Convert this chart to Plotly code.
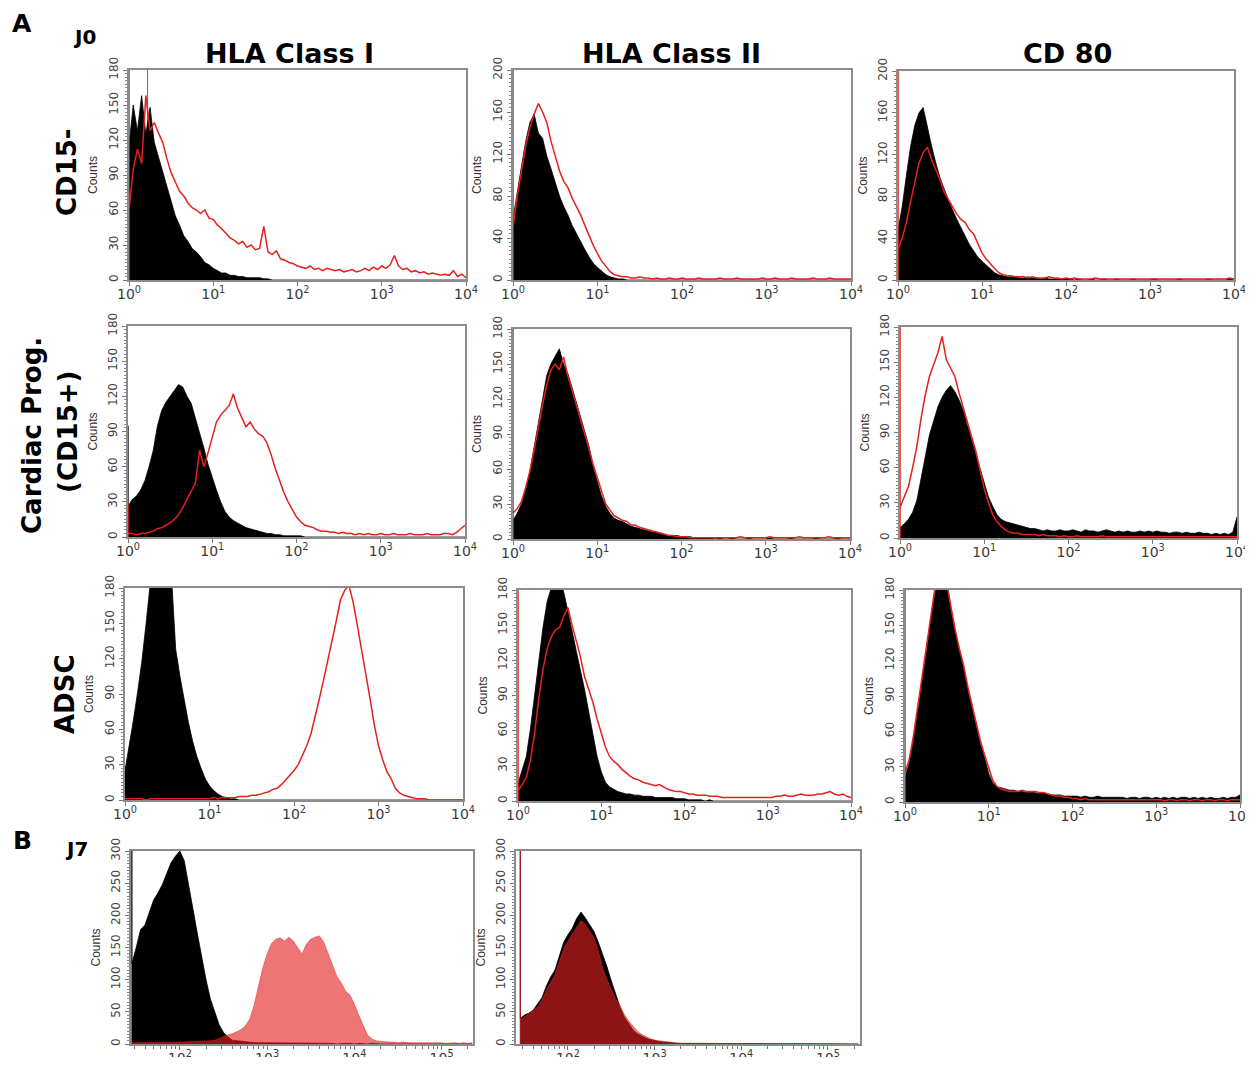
import plotly.graph_objects as go

W, H = 1253, 1065          # browser window / figure size

# log10 position of the first histogram channel and channel spacing (decades)
A_LOG0 = 0.0
B_LOG0 = 1.45
STEP = 0.05

# ===================== Panel A, row "CD15-" =====================
CD15N_HLA1_CTRL = [115, 150, 128, 158, 125, 148, 118, 105, 92, 80,
                   66, 55, 47, 38, 33, 27, 24, 20, 15, 13,
                   10, 8, 6, 6, 4, 4, 3, 3, 2, 2,
                   2, 2, 1, 1, 0, 0, 0, 0, 0, 0] + [0] * 41
CD15N_HLA1_STAIN = [60, 95, 112, 100, 158, 128, 135, 126, 118, 104,
                    92, 84, 76, 72, 66, 62, 60, 57, 60, 53,
                    52, 47, 44, 40, 36, 34, 31, 33, 28, 30,
                    26, 27, 46, 24, 22, 25, 18, 17, 15, 14,
                    12, 11, 10, 12, 9, 10, 8, 10, 9, 8,
                    9, 7, 8, 9, 7, 8, 10, 8, 11, 9,
                    12, 10, 13, 21, 12, 9, 10, 7, 8, 6,
                    7, 5, 6, 5, 4, 5, 4, 8, 3, 5,
                    2]
CD15N_HLA1_STAIN_EDGE = 400
CD15N_HLA1_CTRL_SPIKE = (0.22, 400)

CD15N_HLA2_CTRL = [58, 85, 108, 132, 150, 158, 140, 135, 118, 106,
                   92, 80, 70, 62, 52, 44, 36, 29, 22, 16,
                   12, 8, 5, 3, 2, 1, 1, 0, 0, 0] + [0] * 51
CD15N_HLA2_STAIN = [50, 80, 105, 128, 145, 158, 168, 160, 150, 132,
                    118, 104, 94, 88, 78, 70, 62, 52, 42, 33,
                    25, 18, 13, 8, 5, 4, 3, 3, 2, 2,
                    3, 2, 2, 1, 2, 1, 1, 2, 1, 1,
                    2, 1, 1, 1, 2, 1, 1, 1, 1, 2,
                    1, 1, 1, 2, 1, 1, 1, 1, 1, 2,
                    1, 1, 2, 1, 1, 1, 2, 1, 1, 1,
                    1, 2, 1, 1, 1, 2, 1, 1, 1, 1,
                    1]
CD15N_HLA2_STAIN_EDGE = 400

CD15N_CD80_CTRL = [48, 70, 100, 128, 148, 160, 165, 145, 128, 112,
                   98, 87, 76, 67, 58, 50, 42, 34, 28, 22,
                   18, 14, 10, 7, 5, 4, 3, 3, 3, 2,
                   2, 3, 2, 2, 1, 2, 1, 1, 1, 1,
                   1, 1, 0, 1, 0, 0, 1, 0, 0, 1,
                   0, 0, 1, 0, 0, 0, 1, 0, 0, 0,
                   0, 1, 0, 0, 0, 0, 0, 1, 0, 0,
                   0, 0, 0, 0, 1, 0, 0, 0, 0, 1,
                   0]
CD15N_CD80_STAIN = [29, 40, 55, 75, 95, 112, 122, 127, 115, 105,
                    96, 84, 77, 70, 63, 58, 55, 48, 44, 35,
                    26, 20, 15, 11, 7, 5, 4, 4, 3, 3,
                    3, 2, 3, 2, 2, 2, 3, 2, 2, 1,
                    2, 1, 2, 1, 1, 1, 1, 2, 1, 1,
                    1, 1, 1, 1, 1, 1, 1, 1, 1, 1,
                    1, 1, 1, 1, 1, 1, 1, 1, 1, 1,
                    1, 1, 1, 1, 1, 1, 1, 1, 1, 2,
                    1]
CD15N_CD80_STAIN_EDGE = 400

# ===================== Panel A, row "Cardiac Prog. (CD15+)" =====================
CP_HLA1_CTRL = [26, 32, 35, 40, 48, 60, 74, 95, 108, 115,
                120, 124, 130, 128, 120, 114, 102, 89, 76, 62,
                50, 40, 30, 22, 17, 14, 12, 10, 8, 7,
                6, 5, 4, 3, 3, 2, 2, 1, 1, 1,
                1, 1, 0, 0, 0, 0, 0, 0, 0, 0] + [0] * 31
CP_HLA1_CTRL_EDGE = 95
CP_HLA1_STAIN = [3, 3, 2, 3, 3, 4, 5, 7, 8, 10,
                 12, 15, 19, 25, 32, 38, 46, 74, 60, 72,
                 86, 98, 104, 108, 112, 122, 110, 102, 94, 98,
                 92, 88, 86, 80, 70, 58, 48, 38, 30, 24,
                 17, 13, 10, 9, 8, 6, 5, 5, 4, 4,
                 3, 4, 3, 3, 2, 3, 2, 3, 2, 2,
                 3, 2, 2, 3, 2, 2, 2, 3, 2, 2,
                 2, 3, 2, 2, 2, 3, 3, 2, 4, 7,
                 10]
CP_HLA1_STAIN_EDGE = 28

CP_HLA2_CTRL = [16, 22, 30, 42, 58, 78, 98, 120, 140, 150,
                156, 163, 150, 142, 130, 118, 105, 92, 80, 62,
                50, 37, 28, 22, 18, 16, 15, 13, 11, 10,
                9, 8, 7, 6, 6, 5, 4, 3, 3, 3,
                2, 2, 2, 1, 1, 1, 1, 1, 0, 1,
                0, 0, 1, 0, 0, 0, 1, 0, 0, 0,
                0, 1, 0, 0, 0, 0, 1, 0, 0, 0,
                0, 0, 1, 0, 0, 0, 0, 1, 0, 0,
                0]
CP_HLA2_STAIN = [22, 26, 32, 44, 58, 76, 96, 115, 132, 145,
                 150, 145, 156, 140, 128, 116, 102, 90, 78, 64,
                 52, 40, 30, 25, 20, 18, 16, 15, 12, 12,
                 10, 9, 8, 7, 6, 5, 4, 3, 3, 2,
                 2, 2, 1, 1, 1, 1, 1, 1, 1, 1,
                 1, 1, 1, 1, 2, 1, 1, 1, 1, 1,
                 1, 2, 1, 1, 1, 1, 1, 1, 2, 1,
                 1, 1, 1, 1, 1, 2, 1, 1, 1, 1,
                 1]
CP_HLA2_STAIN_EDGE = 400

CP_CD80_CTRL = [9, 12, 16, 22, 32, 50, 70, 88, 100, 112,
                120, 126, 130, 125, 118, 109, 96, 84, 72, 58,
                47, 35, 27, 20, 16, 14, 13, 12, 11, 10,
                9, 8, 8, 7, 6, 7, 6, 6, 7, 6,
                6, 7, 6, 5, 7, 6, 6, 5, 6, 7,
                6, 5, 6, 5, 6, 5, 5, 6, 5, 6,
                5, 6, 5, 5, 4, 5, 5, 4, 5, 4,
                4, 5, 4, 4, 3, 4, 3, 4, 3, 5,
                18]
CP_CD80_STAIN = [26, 35, 44, 60, 78, 102, 122, 138, 148, 158,
                 172, 152, 145, 138, 124, 112, 100, 88, 74, 58,
                 42, 30, 20, 14, 10, 7, 5, 4, 4, 3,
                 3, 3, 3, 2, 3, 2, 2, 2, 1, 2,
                 1, 1, 2, 1, 1, 1, 1, 1, 2, 1,
                 1, 1, 1, 1, 1, 1, 1, 1, 1, 1,
                 1, 1, 1, 1, 1, 1, 1, 1, 1, 1,
                 1, 1, 1, 1, 1, 1, 1, 1, 1, 1,
                 1]
CP_CD80_STAIN_EDGE = 400

# ===================== Panel A, row "ADSC" =====================
ADSC_HLA1_CTRL = [25, 45, 68, 92, 118, 150, 185, 195, 200, 198,
                  195, 190, 128, 105, 85, 66, 50, 37, 27, 18,
                  12, 8, 5, 3, 2, 1, 1, 0, 0, 0] + [0] * 51
ADSC_HLA1_STAIN = [1, 1, 1, 1, 1, 0, 1, 1, 1, 1,
                   1, 1, 1, 1, 1, 1, 1, 1, 1, 1,
                   1, 2, 1, 2, 2, 2, 2, 3, 3, 3,
                   4, 4, 5, 6, 7, 9, 10, 13, 17, 21,
                   25, 30, 38, 46, 56, 70, 86, 102, 118, 136,
                   152, 170, 178, 182, 168, 148, 128, 108, 86, 64,
                   46, 34, 24, 18, 10, 6, 4, 3, 2, 1,
                   1, 1, 0, 0, 0, 0, 0, 0, 0, 0,
                   0]

ADSC_HLA2_CTRL = [15, 26, 38, 62, 90, 120, 148, 170, 182, 188,
                  190, 178, 160, 145, 128, 112, 95, 76, 58, 38,
                  25, 16, 12, 10, 8, 7, 6, 6, 5, 5,
                  4, 4, 4, 3, 3, 3, 3, 3, 2, 2,
                  2, 1, 1, 1, 1, 0, 1, 0, 0, 0] + [0] * 31
ADSC_HLA2_STAIN = [9, 14, 20, 35, 58, 88, 112, 130, 140, 146,
                   148, 158, 165, 150, 136, 123, 106, 95, 84, 70,
                   58, 46, 38, 34, 31, 27, 24, 21, 19, 18,
                   16, 15, 14, 13, 14, 12, 10, 9, 8, 8,
                   7, 6, 6, 5, 5, 5, 4, 4, 4, 3,
                   3, 3, 3, 3, 3, 3, 3, 3, 3, 3,
                   3, 3, 4, 4, 5, 4, 4, 5, 6, 5,
                   5, 5, 6, 6, 7, 8, 6, 5, 6, 4,
                   3]
ADSC_HLA2_STAIN_EDGE = 400

ADSC_CD80_CTRL = [21, 33, 52, 75, 100, 125, 152, 175, 190, 195,
                  188, 162, 145, 128, 115, 95, 80, 64, 50, 38,
                  24, 16, 13, 12, 11, 10, 10, 9, 9, 8,
                  8, 8, 7, 8, 7, 6, 6, 6, 5, 5,
                  5, 5, 4, 5, 4, 4, 5, 4, 4, 4,
                  4, 4, 4, 3, 4, 4, 3, 4, 4, 3,
                  4, 3, 4, 3, 4, 3, 4, 4, 3, 4,
                  3, 4, 3, 4, 3, 3, 4, 3, 4, 4,
                  6]
ADSC_CD80_STAIN = [25, 36, 56, 80, 104, 128, 155, 178, 192, 190,
                   185, 165, 146, 130, 116, 98, 82, 66, 52, 40,
                   28, 18, 13, 11, 10, 9, 9, 9, 10, 9,
                   9, 9, 8, 8, 7, 6, 5, 5, 4, 4,
                   3, 3, 2, 3, 2, 2, 2, 2, 2, 2,
                   2, 2, 2, 2, 2, 2, 2, 2, 2, 2,
                   2, 2, 1, 2, 2, 1, 2, 2, 1, 2,
                   2, 1, 2, 2, 1, 2, 2, 1, 2, 2,
                   2]
ADSC_CD80_STAIN_EDGE = 400

# ===================== Panel B (J7) =====================
J7_HLA1_CTRL = [125, 150, 178, 185, 205, 224, 235, 248, 265, 282,
                292, 300, 285, 250, 210, 172, 135, 100, 70, 48,
                30, 18, 11, 6, 5, 4, 3, 2, 2, 2,
                2, 2, 1, 1, 1, 1, 1, 1, 1, 1,
                1, 1, 1, 1, 1, 1, 1, 0, 1, 1,
                1, 0, 1, 0, 0, 1, 0, 0, 0, 0] + [0] * 19
J7_HLA1_CTRL_EDGE = 400
J7_HLA1_STAIN = [2, 2, 2, 2, 2, 2, 2, 2, 2, 2,
                 3, 3, 3, 4, 4, 4, 5, 5, 5, 6,
                 9, 11, 14, 16, 19, 22, 28, 38, 60, 89,
                 118, 140, 156, 163, 165, 160, 166, 160, 150, 140,
                 155, 163, 166, 168, 158, 140, 122, 105, 95, 82,
                 76, 62, 45, 30, 14, 8, 5, 4, 3, 3,
                 3, 2, 3, 2, 2, 2, 2, 3, 2, 2,
                 2, 2, 1, 2, 2, 1, 2, 1, 2]

J7_HLA2_CTRL = [40, 45, 48, 53, 62, 72, 90, 104, 115, 138,
                158, 170, 180, 195, 205, 196, 186, 175, 158, 140,
                120, 98, 78, 58, 42, 32, 22, 16, 12, 9,
                7, 5, 4, 3, 2, 2, 1, 1, 1, 1] + [0] * 39
J7_HLA2_CTRL_EDGE = 400
J7_HLA2_STAIN = [38, 42, 47, 52, 58, 68, 84, 96, 108, 128,
                 148, 160, 170, 182, 192, 186, 176, 165, 145, 118,
                 100, 86, 70, 60, 46, 36, 28, 20, 15, 11,
                 8, 6, 5, 4, 3, 2, 2, 1, 1, 1] + [0] * 39
J7_HLA2_STAIN_EDGE = 400

# tick labels
A_TICKS = [1, 10, 100, 1000, 10000]
A_TICKTEXT = ["10<sup>0</sup>", "10<sup>1</sup>", "10<sup>2</sup>", "10<sup>3</sup>", "10<sup>4</sup>"]
B_TICKS = [100, 1000, 10000, 100000]
B_TICKTEXT = ["10<sup>2</sup>", "10<sup>3</sup>", "10<sup>4</sup>", "10<sup>5</sup>"]

COL_TITLES = ["HLA Class I", "HLA Class II", "CD 80"]
ROW_TITLES = ["CD15-", "Cardiac Prog.", "(CD15+)", "ADSC"]

RED = "#e3211d"
B_RED = "rgba(228,32,32,0.62)"
FONT = "DejaVu Sans"

# ------------------------------------------------------------------
# panels: (box px x0,x1,y0,y1), ymax, dtick, minor dtick, xrange, kind, data
panels = [
    ((129, 466, 70, 280), 180, 30, 3, [0, 4], "A", CD15N_HLA1_CTRL, None, CD15N_HLA1_STAIN, CD15N_HLA1_STAIN_EDGE),
    ((513, 851, 70, 280), 200, 40, 4, [0, 4], "A", CD15N_HLA2_CTRL, None, CD15N_HLA2_STAIN, CD15N_HLA2_STAIN_EDGE),
    ((898, 1234, 71, 280), 200, 40, 4, [0, 4], "A", CD15N_CD80_CTRL, None, CD15N_CD80_STAIN, CD15N_CD80_STAIN_EDGE),
    ((128, 465, 326, 537), 180, 30, 3, [0, 4], "A", CP_HLA1_CTRL, CP_HLA1_CTRL_EDGE, CP_HLA1_STAIN, CP_HLA1_STAIN_EDGE),
    ((513, 850, 329, 539), 180, 30, 3, [0, 4], "A", CP_HLA2_CTRL, None, CP_HLA2_STAIN, CP_HLA2_STAIN_EDGE),
    ((900, 1237, 327, 538), 180, 30, 3, [0, 4], "A", CP_CD80_CTRL, None, CP_CD80_STAIN, CP_CD80_STAIN_EDGE),
    ((125, 463, 588, 800), 180, 30, 3, [0, 4], "A", ADSC_HLA1_CTRL, None, ADSC_HLA1_STAIN, None),
    ((518, 851, 590, 801), 180, 30, 3, [0, 4], "A", ADSC_HLA2_CTRL, None, ADSC_HLA2_STAIN, ADSC_HLA2_STAIN_EDGE),
    ((905, 1240, 590, 802), 180, 30, 3, [0, 4], "A", ADSC_CD80_CTRL, None, ADSC_CD80_STAIN, ADSC_CD80_STAIN_EDGE),
    ((131, 473, 851, 1044), 300, 50, 5, [1.44, 5.36], "B", J7_HLA1_CTRL, J7_HLA1_CTRL_EDGE, J7_HLA1_STAIN, None),
    ((516, 860, 851, 1044), 300, 50, 5, [1.40, 5.37], "B", J7_HLA2_CTRL, J7_HLA2_CTRL_EDGE, J7_HLA2_STAIN, J7_HLA2_STAIN_EDGE),
]


def px_x(px):
    return px / W


def px_y(py):
    return 1 - py / H


def channels(log0, n):
    return [10 ** (log0 + STEP * i) for i in range(n)]


def with_edge(vals, edge, log0):
    xs = channels(log0, len(vals))
    if edge is None:
        return xs, list(vals)
    return [xs[0], xs[0]] + xs, [0, edge] + list(vals)


fig = go.Figure()
layout = {}
annotations = []

for i, (box, ymax, dt, mdt, xr, kind, ctrl, cedge, stain, sedge) in enumerate(panels):
    n = i + 1
    xa = "x" if n == 1 else f"x{n}"
    ya = "y" if n == 1 else f"y{n}"
    x0, x1, y0, y1 = box
    log0 = A_LOG0 if kind == "A" else B_LOG0

    if n == 1:
        sx, sy = CD15N_HLA1_CTRL_SPIKE
        fig.add_trace(go.Scatter(x=[10 ** sx, 10 ** sx], y=[0, sy], mode="lines",
                                 line=dict(color="#7a7a7a", width=1.2), xaxis=xa, yaxis=ya,
                                 hoverinfo="skip", showlegend=False))

    cx, cy = with_edge(ctrl, cedge, log0)
    fig.add_trace(go.Scatter(x=cx, y=cy, mode="lines", fill="tozeroy", fillcolor="black",
                             line=dict(color="black", width=0.8), xaxis=xa, yaxis=ya,
                             hoverinfo="skip", showlegend=False))
    sx_, sy_ = with_edge(stain, sedge, log0)
    if kind == "A":
        fig.add_trace(go.Scatter(x=sx_, y=sy_, mode="lines",
                                 line=dict(color=RED, width=1.5), xaxis=xa, yaxis=ya,
                                 hoverinfo="skip", showlegend=False))
    else:
        fig.add_trace(go.Scatter(x=sx_, y=sy_, mode="lines", fill="tozeroy", fillcolor=B_RED,
                                 line=dict(color=B_RED, width=0.8), xaxis=xa, yaxis=ya,
                                 hoverinfo="skip", showlegend=False))

    if kind == "A":
        tv, tt = A_TICKS, A_TICKTEXT
        minor_x = None
    else:
        tv, tt = B_TICKS, B_TICKTEXT
        minor_x = dict(ticks="outside", ticklen=3, tickcolor="#777", tickmode="array",
                       tickvals=[k * 10 ** d for d in range(1, 6) for k in range(2, 10)])

    xaxis = dict(domain=[px_x(x0), px_x(x1)], anchor=ya, type="log", range=xr,
                 tickmode="array", tickvals=tv, ticktext=tt, ticks="outside", ticklen=4,
                 ticklabelstandoff=-4,
                 tickcolor="#777", showline=True, mirror=True, linecolor="#8c8c8c",
                 linewidth=1.5, showgrid=False, zeroline=False, layer="below traces",
                 automargin=False,
                 tickfont=dict(family=FONT, size=14, color="#3a3a3a"), fixedrange=True)
    if minor_x:
        xaxis["minor"] = minor_x
    yaxis = dict(domain=[px_y(y1), px_y(y0)], anchor=xa, range=[0, ymax], dtick=dt,
                 tick0=0, tickangle=-90, ticks="outside", ticklen=4, tickcolor="#777",
                 minor=dict(ticks="outside", ticklen=2, dtick=mdt, tickcolor="#888"),
                 showline=True, mirror=True, linecolor="#8c8c8c", linewidth=1.5,
                 showgrid=False, zeroline=False, layer="below traces", automargin=False,
                 tickfont=dict(family=FONT, size=12, color="#444"), fixedrange=True)
    layout["xaxis" if n == 1 else f"xaxis{n}"] = xaxis
    layout["yaxis" if n == 1 else f"yaxis{n}"] = yaxis

    annotations.append(dict(text="Counts", x=px_x(x0 - 36), y=px_y((y0 + y1) / 2),
                            xref="paper", yref="paper", showarrow=False, textangle=-90,
                            xanchor="center", yanchor="middle",
                            font=dict(family="Liberation Sans", size=12, color="#333")))


def ann(text, px, py, size, angle=0):
    annotations.append(dict(text=f"<b>{text}</b>", x=px_x(px), y=px_y(py), xref="paper",
                            yref="paper", showarrow=False, textangle=angle,
                            xanchor="center", yanchor="middle",
                            font=dict(family=FONT, size=size, color="black")))


ann(COL_TITLES[0], 289, 53, 27)
ann(COL_TITLES[1], 671, 53, 27)
ann(COL_TITLES[2], 1067, 53, 27)
ann(ROW_TITLES[0], 67, 172, 26, -90)
ann(ROW_TITLES[1], 32, 436, 26, -90)
ann(ROW_TITLES[2], 68, 432, 26, -90)
ann(ROW_TITLES[3], 65, 694, 26, -90)
ann("A", 22, 23, 25)
ann("J0", 84, 37, 20)
ann("B", 22, 840, 25)
ann("J7", 76, 849, 20)

# figure fills the whole window; the div is pulled over the default 8px body margin
fig.update_layout(template="none", autosize=True,
                  margin=dict(l=0, r=0, t=0, b=0, pad=0, autoexpand=False),
                  paper_bgcolor="white", plot_bgcolor="white", annotations=annotations,
                  **layout)

fig.write_html("out.html", config={"displayModeBar": False, "responsive": False},
               default_width=f"{W}px; margin: -8px 0 -8px -8px",
               default_height=f"{H}px")
